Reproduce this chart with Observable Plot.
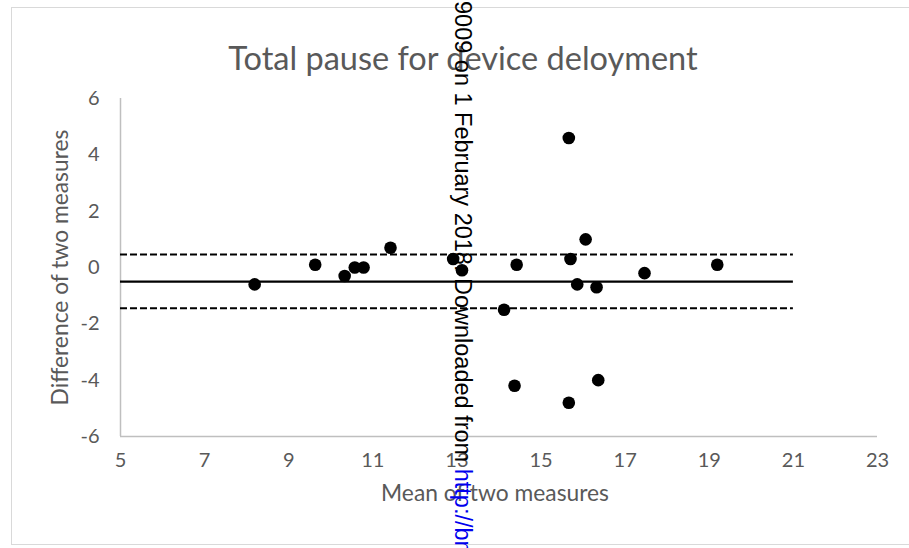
<!DOCTYPE html>
<html>
<head>
<meta charset="utf-8">
<script src="https://cdn.jsdelivr.net/npm/d3@7"></script>
<script src="https://cdn.jsdelivr.net/npm/@observablehq/plot@0.6"></script>
<style>
  html, body { margin: 0; padding: 0; background: #fff; }
  #wrap { position: relative; width: 909px; height: 548px; overflow: hidden; }
  #wrap svg { position: absolute; left: 0; top: 0; }
  #border { position: absolute; left: 11px; top: 7px; width: 910px; height: 538px; border: 1px solid #d9d9d9; box-sizing: border-box; }
  #wm { position: absolute; left: 451px; top: 1px; writing-mode: vertical-rl; font-family: "Liberation Sans", Arial, sans-serif; font-size: 23.5px; line-height: 24px; white-space: nowrap; color: #000; z-index: 5; }
  #wm .link { color: #0000ee; }
</style>
</head>
<body>
<div id="wrap">
  <div id="border"></div>
  <div id="wm">9009 on 1 February 2018. Downloaded from <span class="link">http://bmjopen.bmj.com/ on 22 February 2018</span></div>
</div>
<script>
// Chart data
const chartTitle = "Total pause for device deloyment";
const xLabel = "Mean of two measures";
const yLabel = "Difference of two measures";
const means = [8.19, 9.63, 10.33, 10.57, 10.78, 11.42, 12.91, 13.12, 14.12, 14.37, 14.42, 15.66, 15.66, 15.70, 15.86, 16.06, 16.32, 16.36, 17.46, 19.19];
const diffs = [-0.6, 0.1, -0.3, 0.0, 0.0, 0.7, 0.3, -0.1, -1.5, -4.2, 0.1, 4.6, -4.8, 0.3, -0.6, 1.0, -0.7, -4.0, -0.2, 0.1];
const meanDiff = [-0.5];
const limits = [0.46, -1.45];
const lineSpan = [5, 21];
const xTicks = [5, 7, 9, 11, 13, 15, 17, 19, 21, 23];
const yTicks = [-6, -4, -2, 0, 2, 4, 6];

const points = means.map((m, i) => ({mean: m, diff: diffs[i]}));

const textColor = "#595959";
const axisColor = "#bfbfbf";

const chart = Plot.plot({
  width: 909,
  height: 548,
  marginLeft: 120,
  marginRight: 32,
  marginTop: 98,
  marginBottom: 112,
  style: {fontFamily: "Lato, 'Open Sans', sans-serif", background: "transparent", overflow: "visible"},
  x: {domain: [5, 23], label: null},
  y: {domain: [-6, 6], label: null},
  marks: [
    Plot.ruleX([5], {y1: -6, y2: 6, stroke: axisColor, strokeWidth: 1.5}),
    Plot.ruleY([-6], {x1: 5, x2: 23, stroke: axisColor, strokeWidth: 1.5}),
    Plot.axisX({ticks: xTicks, tickSize: 0, tickPadding: 16, fontSize: 20, fill: textColor, label: null, tickFormat: d => String(d)}),
    Plot.axisY({ticks: yTicks, tickSize: 0, tickPadding: 21, fontSize: 20, fill: textColor, label: null, tickFormat: d => String(d)}),
    Plot.ruleY(limits, {x1: lineSpan[0], x2: lineSpan[1], stroke: "#000", strokeWidth: 2, strokeDasharray: "7,3"}),
    Plot.ruleY(meanDiff, {x1: lineSpan[0], x2: lineSpan[1], stroke: "#000", strokeWidth: 2.2}),
    Plot.dot(points, {x: "mean", y: "diff", r: 6.3, fill: "#000", stroke: "none"}),
    Plot.text([xLabel], {frameAnchor: "bottom", textAnchor: "middle", dx: -4, dy: 64, fontSize: 22.8, fill: textColor}),
    Plot.text([yLabel], {frameAnchor: "left", textAnchor: "middle", dx: -60, rotate: -90, fontSize: 22.8, fill: textColor}),
    Plot.text([chartTitle], {frameAnchor: "top", textAnchor: "middle", dx: -36, dy: -51.5, fontSize: 32.5, fill: textColor})
  ]
});
const wrap = document.getElementById("wrap");
wrap.insertBefore(chart, document.getElementById("wm"));
</script>
</body>
</html>
